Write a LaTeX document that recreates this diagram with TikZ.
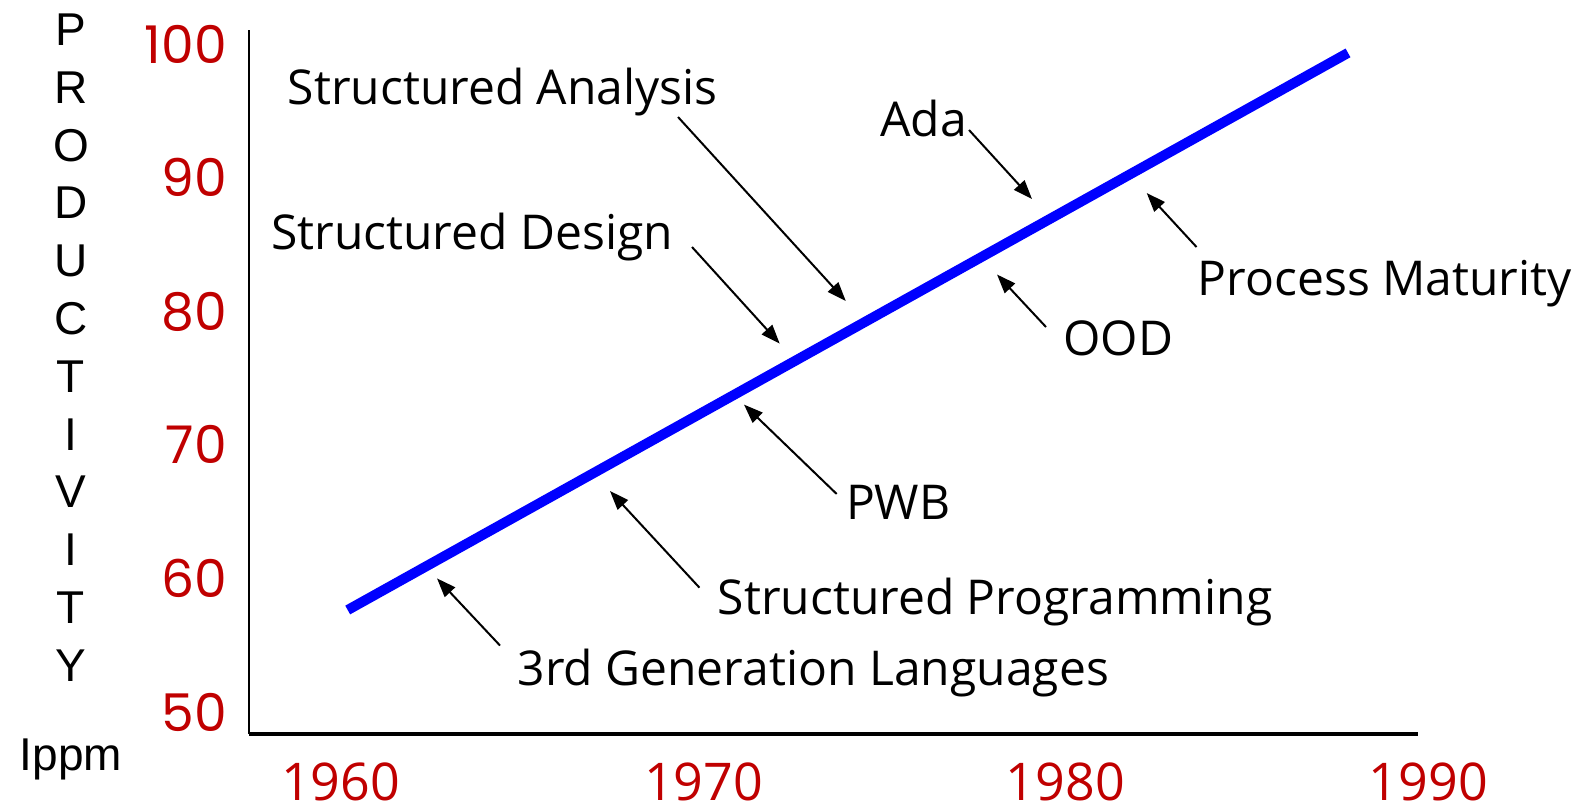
\documentclass[tikz,border=0pt]{standalone}
\usepackage{fontspec}
\setmainfont{Liberation Sans}
\newfontfamily\labelfont{Open Sans}
\newfontfamily\tickfont{Poppins}
\usetikzlibrary{arrows.meta}
\definecolor{tickred}{HTML}{C00000}
\definecolor{trendblue}{HTML}{0000FF}
\tikzset{
  lbl/.style={font=\labelfont\fontsize{48}{48}\selectfont, inner sep=0pt, anchor=base west},
  ytick/.style={font=\tickfont\fontsize{52}{52}\selectfont, text=tickred, inner sep=0pt, anchor=base east},
  xtick/.style={font=\labelfont\fontsize{52}{52}\selectfont, text=tickred, inner sep=0pt, anchor=base},
  vletter/.style={font=\fontsize{46}{46}\selectfont, inner sep=0pt, anchor=base},
  pointer/.style={line width=2pt, -{Triangle[length=19pt,width=14pt]}},
}
\begin{document}
\begin{tikzpicture}[x=1pt,y=-1pt]
\useasboundingbox (0,0) rectangle (1594,811);

% axes
\coordinate (origin) at (249,734);
\coordinate (ytop) at (249,30);
\coordinate (xend) at (1418,734);
\draw[line width=2pt] (ytop) -- (origin);
\draw[line width=4pt] (origin) -- (xend);

% vertical axis caption
\foreach \ch [count=\i from 0] in {P,R,O,D,U,C,T,I,V,I,T,Y}
  \node[vletter] (cap\i) at (71,{45.5+57.8*\i}) {\ch};
\node[vletter] (unit) at (71,770) {Ippm};

% productivity ticks
\foreach \v [count=\i from 0] in {100,90,80,70,60,50}
  \node[ytick] (yt\i) at (227,{63+133.6*\i}) {\v};

% year ticks
\foreach \yr/\xx in {1960/340.6,1970/703.5,1980/1065.4,1990/1428.3}
  \node[xtick] (xt\yr) at (\xx,800) {\yr};

% trend line
\coordinate (trendA) at (347.7,610);
\coordinate (trendB) at (1348,52.9);
\draw[trendblue, line width=10pt] (trendA) -- (trendB);

% milestone labels
\node[lbl] (sa)  at (287.7,104.7) {Structured Analysis};
\node[lbl] (sd)  at (271,249)     {Structured Design};
\node[lbl] (ada) at (880,136)     {Ada};
\node[lbl] (pm)  at (1197.6,295)  {Process Maturity};
\node[lbl] (ood) at (1063,355)    {OOD};
\node[lbl] (pwb) at (845.8,519.5) {PWB};
\node[lbl] (sp)  at (717.7,614)   {Structured Programming};
\node[lbl] (gl)  at (517.5,685)   {3rd Generation Languages};

% pointer ends
\coordinate (saT) at (678,117);    \coordinate (saH) at (845.8,301);
\coordinate (sdT) at (692,247);    \coordinate (sdH) at (779.7,343.6);
\coordinate (adaT) at (969,130);   \coordinate (adaH) at (1032,199);
\coordinate (pmT) at (1196.5,247); \coordinate (pmH) at (1146.7,193);
\coordinate (oodT) at (1046,327);  \coordinate (oodH) at (997,274.5);
\coordinate (pwbT) at (836.7,494); \coordinate (pwbH) at (744,404.6);
\coordinate (spT) at (699.4,587.6);\coordinate (spH) at (610,491);
\coordinate (glT) at (500,645.5);  \coordinate (glH) at (437,578.4);

\foreach \p in {sa,sd,ada,pm,ood,pwb,sp,gl}
  \draw[pointer] (\p T) -- (\p H);
\end{tikzpicture}
\end{document}
